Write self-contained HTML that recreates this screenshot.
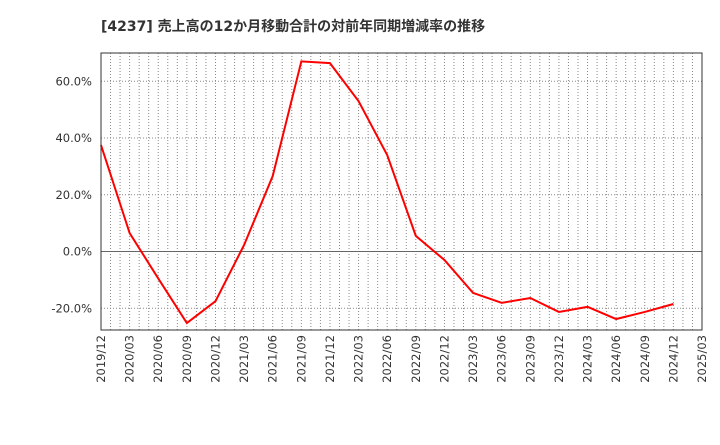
<!DOCTYPE html>
<html><head><meta charset="utf-8"><style>
body{margin:0;background:#fff;}
svg text{font-family:"DejaVu Sans","Noto Sans CJK JP",sans-serif;}
</style></head><body>
<svg width="720" height="440" xmlns="http://www.w3.org/2000/svg" id="chart">
<text x="101" y="31" font-size="14" font-weight="bold" fill="#333">[4237]  売上高の12か月移動合計の対前年同期増減率の推移</text>
<g id="grid"></g>
<g id="axes"></g>
<polyline id="line" fill="none" stroke="#ff0000" stroke-width="2"/>
<rect x="101" y="53" width="601" height="277" fill="none" stroke="#333" stroke-width="1"/>
</svg>
<script>
const categories=["2019/12","2020/03","2020/06","2020/09","2020/12","2021/03","2021/06","2021/09","2021/12","2022/03","2022/06","2022/09","2022/12","2023/03","2023/06","2023/09","2023/12","2024/03","2024/06","2024/09","2024/12","2025/03"];
const values=[37.5,6.5,-9.5,-25.2,-17.5,2.3,26.6,67,66.4,53,34,5.5,-3,-14.6,-18.1,-16.4,-21.3,-19.5,-23.8,-21.3,-18.5];
const yTicks=[-20,0,20,40,60];
const L=101,R=702,T=53,B=330;
const x=i=>L+i*(R-L)/(categories.length-1);
const y=v=>251.5-v*2.8375;
const ns="http://www.w3.org/2000/svg";
const grid=document.getElementById('grid'),axes=document.getElementById('axes');
for(let m=1;m<(categories.length-1)*3;m++){
 const xx=L+m*(R-L)/((categories.length-1)*3);
 const l=document.createElementNS(ns,'line');
 
 
 l.setAttribute('x1',xx);l.setAttribute('x2',xx);l.setAttribute('y1',T);l.setAttribute('y2',B);
 l.setAttribute('stroke','#888');l.setAttribute('stroke-dasharray','1,2');
 grid.appendChild(l);
}
yTicks.forEach(v=>{
 const l=document.createElementNS(ns,'line');
 
 
 l.setAttribute('x1',L);l.setAttribute('x2',R);l.setAttribute('y1',y(v));l.setAttribute('y2',y(v));
 l.setAttribute('stroke',v===0?'#666':'#888');
 if(v!==0)l.setAttribute('stroke-dasharray','1,2');
 grid.appendChild(l);
 const t=document.createElementNS(ns,'text');
 
 
 t.setAttribute('x',92);t.setAttribute('y',y(v)+4);t.setAttribute('text-anchor','end');
 t.setAttribute('font-size','11.5');t.setAttribute('fill','#333');
 t.textContent=v.toFixed(1)+'%';
 axes.appendChild(t);
});
categories.forEach((c,i)=>{
 const t=document.createElementNS(ns,'text');
 
 
 t.setAttribute('transform','translate('+(x(i)+4)+',335) rotate(-90)');
 t.setAttribute('text-anchor','end');t.setAttribute('font-size','11.5');t.setAttribute('fill','#333');
 t.textContent=c;
 axes.appendChild(t);
});
document.getElementById('line').setAttribute('points',values.map((v,i)=>x(i)+','+y(v)).join(' '));
</script>
</body></html>
